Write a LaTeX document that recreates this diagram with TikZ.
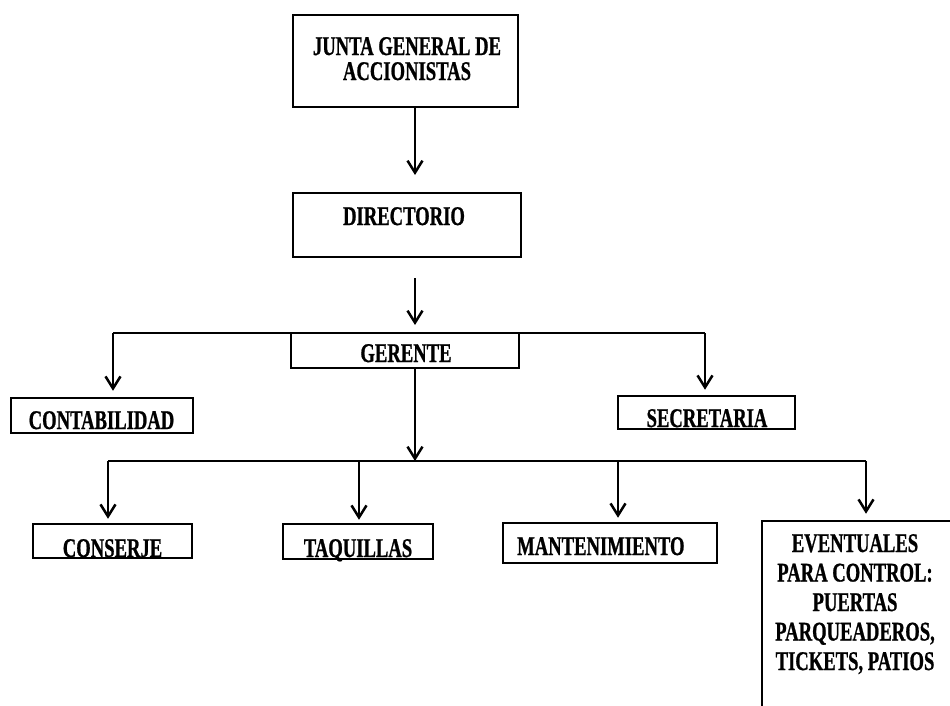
\documentclass[tikz,border=0pt]{standalone}
\usepackage{fontspec}
\setmainfont{Liberation Serif}[FakeStretch=0.69,FakeBold=0.8]
\usetikzlibrary{arrows.meta}
\begin{document}
\begin{tikzpicture}[x=1pt,y=-1pt,
  box/.style={draw, line width=2.5pt, inner sep=0pt},
  lbl/.style={font=\bfseries\fontsize{27}{25}\selectfont, inner sep=0pt, anchor=base},
  conn/.style={line width=2.5pt},
  arr/.style={conn, -{Straight Barb[length=12pt,width=15pt]}}]
\useasboundingbox (0,0) rectangle (950,705);
\clip (0,0) rectangle (950,705);
% boxes
\node[box, minimum width=225pt, minimum height=92pt] (junta) at (405.5,61) {};
\node[box, minimum width=228pt, minimum height=64pt] (direct) at (407,225) {};
\node[box, minimum width=228pt, minimum height=35pt] (gerente) at (405,350.5) {};
\node[box, minimum width=182pt, minimum height=35pt] (contab) at (102,415.5) {};
\node[box, minimum width=177pt, minimum height=33pt] (secret) at (706.5,412.5) {};
\node[box, minimum width=159pt, minimum height=34pt] (conserje) at (112.5,541) {};
\node[box, minimum width=150pt, minimum height=35pt] (taquillas) at (358,541.5) {};
\node[box, minimum width=214pt, minimum height=40pt] (manten) at (610,543) {};
\node[box, minimum width=200pt, minimum height=200pt] (event) at (862,621) {};
% texts
\node[lbl, align=center] (juntat) at (407,80) {JUNTA GENERAL DE\\ACCIONISTAS};
\node[lbl] (directt) at (404,225) {DIRECTORIO};
\node[lbl] (gerentet) at (406,362) {GERENTE};
\node[lbl] (contabt) at (101.5,429) {CONTABILIDAD};
\node[lbl] (secrett) at (707,427) {SECRETARIA};
\node[lbl] (conserjet) at (112.5,557) {CONSERJE};
\node[lbl] (taquillast) at (358,557) {TAQUILLAS};
\node[lbl, anchor=base west] (mantent) at (517,555) {MANTENIMIENTO};
\node[lbl, align=center, font=\bfseries\fontsize{27}{29.5}\selectfont] (eventt) at (855,670) {EVENTUALES\\PARA CONTROL:\\PUERTAS\\PARQUEADEROS,\\TICKETS, PATIOS};
% connectors
\coordinate (j1) at (415,175);
\draw[arr] (junta.south -| j1) -- (j1);
\coordinate (d1) at (415,278);
\coordinate (d2) at (415,325);
\draw[arr] (d1) -- (d2);
\coordinate (gl) at (113,333);
\coordinate (gr) at (705,333);
\draw[conn] (gl) -- (gr);
\draw[arr] (gl) -- ([yshift=6pt]contab.north -| gl);
\draw[arr] (gr) -- ([yshift=5pt]secret.north -| gr);
\coordinate (bl) at (108,461);
\coordinate (b2) at (359,461);
\coordinate (bm) at (415,461);
\coordinate (b3) at (618,461);
\coordinate (br) at (866,461);
\draw[arr] (gerente.south -| bm) -- (bm);
\draw[conn] (bl) -- (br);
\draw[arr] (bl) -- ([yshift=4pt]conserje.north -| bl);
\draw[arr] (b2) -- ([yshift=3pt]taquillas.north -| b2);
\draw[arr] (b3) -- ([yshift=4pt]manten.north -| b3);
\draw[arr] (br) -- ([yshift=6pt]event.north -| br);
\end{tikzpicture}
\end{document}
